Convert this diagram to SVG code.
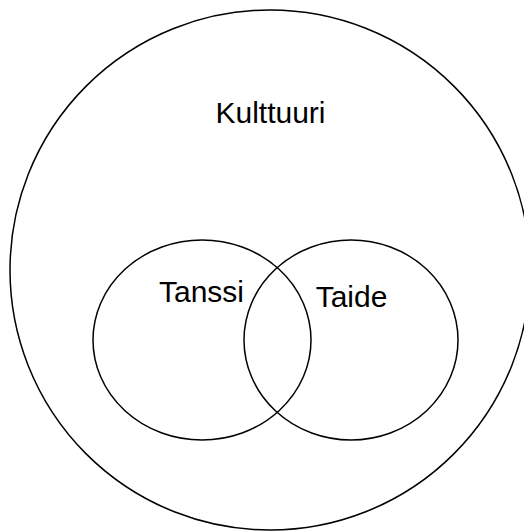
<svg xmlns="http://www.w3.org/2000/svg" width="524" height="531" viewBox="0 0 524 531">
<style>
.shape{fill:none;stroke:#000;stroke-width:1.5}
.label{font-family:"Liberation Sans",Arial,sans-serif;font-size:30px;fill:#000;text-anchor:middle}
</style>
<rect width="524" height="531" fill="#fff"/>
<g id="kulttuuri">
<circle class="shape" cx="270" cy="270" r="260"/>
<text class="label" x="270.5" y="123">Kulttuuri</text>
</g>
<g id="tanssi">
<ellipse class="shape" cx="202" cy="340" rx="109" ry="100"/>
<text class="label" x="201.5" y="302">Tanssi</text>
</g>
<g id="taide">
<ellipse class="shape" cx="351" cy="340" rx="107" ry="100"/>
<text class="label" x="351.5" y="307">Taide</text>
</g>
<g id="connectors"/>
</svg>
